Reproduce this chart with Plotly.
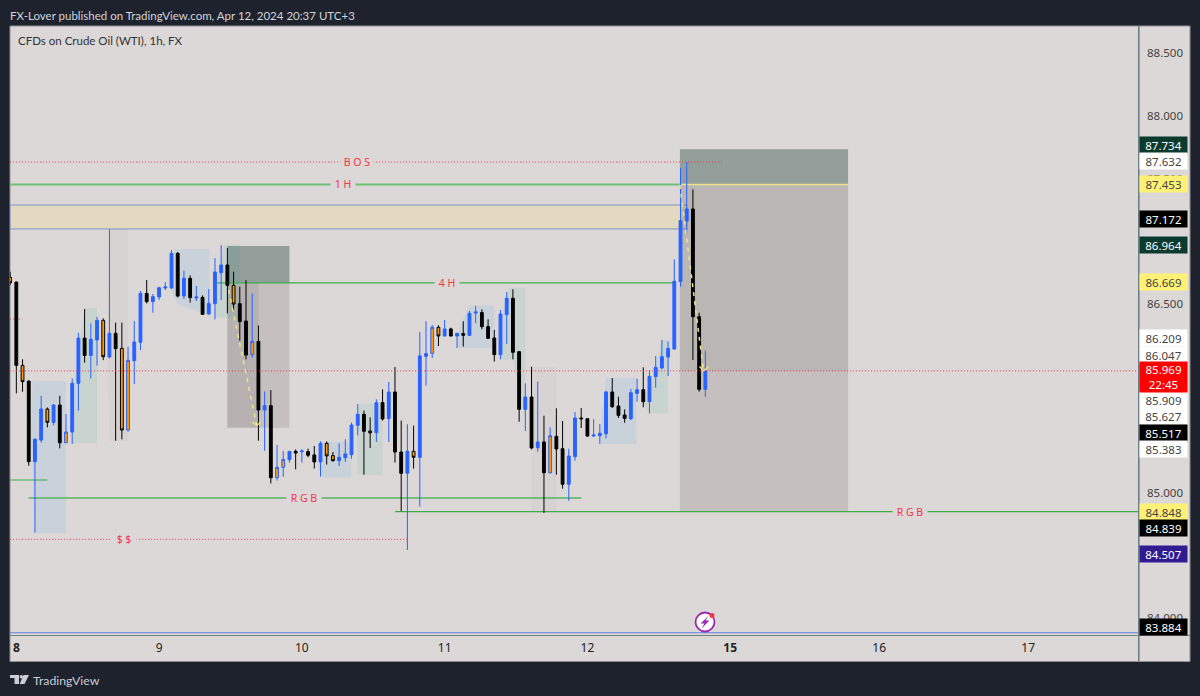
import plotly.graph_objects as go

# One-hour CFD bars, one entry per bar, from the 8th to the 12th.
# kind: b = rising, k = falling, u = rising inside bar, d = falling inside bar
kind = list(
    "dkdkbbdbku"
    "bbkbbdbkdu"
    "bbkbbbbkbk"
    "bkbbbkdkku"
    "kbkuubkbkk"
    "bddbbbbkdb"
    "kbkkbdbbud"
    "bkbkbbkkkb"
    "bkkbkbkukk"
    "bbkkbbbkkk"
    "bbkbbbbbbb"
    "kkb"
)
body_top = [
    86.714, 86.676, 86.013, 85.888, 85.424, 85.665, 85.665, 85.697, 85.697, 85.482,
    85.870, 86.230, 86.230, 86.220, 86.371, 86.371, 86.268, 86.268, 86.148, 86.053,
    86.199, 86.586, 86.586, 86.560, 86.631, 86.637, 86.905, 86.905, 86.706, 86.706,
    86.557, 86.554, 86.506, 86.756, 86.812, 86.812, 86.650, 86.504, 86.366, 86.204,
    86.204, 85.692, 85.692, 85.201, 85.264, 85.328, 85.328, 85.331, 85.326, 85.300,
    85.392, 85.392, 85.294, 85.281, 85.308, 85.538, 85.623, 85.623, 85.491, 85.716,
    85.716, 85.801, 85.801, 85.323, 85.329, 85.329, 86.088, 86.106, 86.316, 86.316,
    86.303, 86.303, 86.268, 86.266, 86.427, 86.438, 86.433, 86.321, 86.231, 86.422,
    86.547, 86.547, 86.122, 85.761, 85.761, 85.403, 85.403, 85.453, 85.448, 85.349,
    85.291, 85.594, 85.594, 85.588, 85.458, 85.472, 85.801, 85.801, 85.689, 85.618,
    85.795, 85.819, 85.819, 85.925, 85.997, 86.082, 86.148, 86.682, 87.165, 87.258,
    87.258, 86.400, 85.969,
]
body_bottom = [
    86.671, 86.013, 85.883, 85.246, 85.246, 85.418, 85.559, 85.559, 85.397, 85.397,
    85.482, 85.870, 86.092, 86.092, 86.215, 86.082, 86.079, 86.146, 85.498, 85.498,
    86.050, 86.196, 86.520, 86.520, 86.557, 86.629, 86.629, 86.565, 86.565, 86.552,
    86.549, 86.419, 86.422, 86.504, 86.751, 86.650, 86.501, 86.361, 86.095, 86.100,
    85.657, 85.657, 85.118, 85.118, 85.201, 85.262, 85.315, 85.326, 85.297, 85.244,
    85.244, 85.292, 85.254, 85.254, 85.278, 85.302, 85.536, 85.488, 85.475, 85.477,
    85.586, 85.589, 85.323, 85.154, 85.154, 85.281, 85.281, 86.085, 86.109, 86.247,
    86.247, 86.247, 86.247, 86.252, 86.252, 86.430, 86.321, 86.228, 86.098, 86.098,
    86.417, 86.117, 85.663, 85.663, 85.355, 85.357, 85.158, 85.158, 85.347, 85.066,
    85.066, 85.286, 85.588, 85.450, 85.450, 85.453, 85.469, 85.684, 85.615, 85.591,
    85.588, 85.790, 85.724, 85.724, 85.923, 85.992, 86.079, 86.143, 86.679, 87.162,
    86.400, 85.822, 85.822,
]
high = [
    86.759, 86.680, 86.061, 85.890, 85.432, 85.771, 85.678, 85.705, 85.771, 85.625,
    85.909, 86.273, 86.461, 86.347, 86.400, 86.387, 87.096, 86.353, 86.353, 86.161,
    86.366, 86.605, 86.692, 86.581, 86.639, 86.676, 86.931, 86.915, 86.767, 86.729,
    86.645, 86.570, 86.621, 86.867, 86.971, 86.947, 86.759, 86.639, 86.692, 86.586,
    86.331, 85.806, 85.816, 85.379, 85.331, 85.331, 85.344, 85.345, 85.350, 85.371,
    85.408, 85.408, 85.323, 85.392, 85.424, 85.557, 85.706, 85.653, 85.599, 85.743,
    85.822, 85.881, 86.000, 85.573, 85.544, 85.533, 86.279, 86.364, 86.335, 86.332,
    86.374, 86.313, 86.268, 86.364, 86.446, 86.486, 86.459, 86.380, 86.295, 86.454,
    86.597, 86.619, 86.127, 85.870, 86.002, 85.883, 85.612, 85.519, 85.671, 85.570,
    85.349, 85.641, 85.673, 85.588, 85.583, 85.546, 85.811, 85.912, 85.763, 85.663,
    85.825, 85.907, 85.997, 85.976, 86.087, 86.215, 86.204, 86.857, 87.587, 87.632,
    87.414, 86.432, 86.130,
]
low = [
    86.652, 85.790, 85.803, 85.214, 84.681, 85.397, 85.519, 85.535, 85.352, 85.395,
    85.387, 85.652, 86.034, 85.909, 86.010, 86.055, 86.069, 85.413, 85.424, 85.485,
    85.864, 86.135, 86.506, 86.432, 86.533, 86.613, 86.621, 86.554, 86.541, 86.512,
    86.525, 86.414, 86.416, 86.379, 86.533, 86.427, 86.453, 86.209, 86.061, 86.074,
    85.413, 85.333, 85.073, 85.095, 85.126, 85.238, 85.185, 85.239, 85.281, 85.191,
    85.127, 85.223, 85.246, 85.212, 85.244, 85.270, 85.456, 85.143, 85.355, 85.403,
    85.573, 85.403, 85.239, 84.851, 84.543, 85.191, 84.888, 85.852, 86.072, 86.167,
    86.242, 86.242, 86.151, 86.162, 86.247, 86.348, 86.300, 86.223, 86.043, 86.061,
    86.183, 86.061, 85.564, 85.490, 85.344, 85.326, 84.838, 85.153, 85.142, 85.031,
    84.935, 85.254, 85.514, 85.445, 85.445, 85.387, 85.432, 85.673, 85.594, 85.556,
    85.578, 85.724, 85.679, 85.631, 85.835, 85.981, 85.928, 86.140, 86.639, 87.064,
    86.055, 85.803, 85.763,
]

# Session labels on the bar axis
day_bars = [1, 24, 47, 70, 93, 116, 140, 164]
day_labels = ["<b>8</b>", "9", "10", "11", "12", "<b>15</b>", "16", "17"]

# Round prices on the scale; those under a tag are left out
price_ticks = [88.5, 88.0, 87.5, 87.0, 86.5, 85.0, 84.0]

# Price levels
bos_level = 87.632
h1_level = 87.453
h4_level = 86.669
rgb_upper = 84.957
rgb_lower = 84.848
ss_level = 84.628
last_price = 85.969
floor_level = 83.884
supply_top, supply_bottom = 87.290, 87.099

# Trade boxes: first bar, last bar, target, entry, stop
trade_large = (107.9, 135.0, 87.734, 87.453, 84.848)
trade_small = (35.0, 45.0, 86.964, 86.669, 85.517)

# Highlighted bar clusters as (bar, price) outlines
BLUE_ZONE, GREEN_ZONE, GREY_ZONE = "#c9d1da", "#c9d4d1", "#d6d3d2"
zones = [
    (BLUE_ZONE, [(3.4, 85.45), (3.6, 85.888), (9, 85.888), (9, 84.681), (4, 84.681)]),
    (GREEN_ZONE, [(10.1, 85.39), (10.2, 85.85), (12, 86.47), (14, 86.47), (14, 85.39)]),
    (GREY_ZONE, [(15.6, 86.2), (16, 87.099), (19, 87.099), (19, 85.41), (16, 85.41)]),
    (BLUE_ZONE, [(26, 86.6), (26.5, 86.94), (32.1, 86.94), (32.1, 86.41), (27, 86.5)]),
    (GREEN_ZONE, [(33, 86.4), (33.2, 86.7), (34.5, 86.971), (37, 86.971), (37, 86.379)]),
    (BLUE_ZONE, [(49.6, 85.2), (50, 85.405), (55, 85.405), (55, 85.12), (50.3, 85.12)]),
    (GREEN_ZONE, [(55.8, 85.5), (56.2, 85.71), (60, 85.71), (60, 85.14), (56, 85.14)]),
    (BLUE_ZONE, [(72, 86.15), (72.3, 86.3), (74, 86.49), (78, 86.49), (78, 86.15)]),
    (GREEN_ZONE, [(79, 86.06), (79.2, 86.4), (80.3, 86.63), (83, 86.63), (83, 85.57), (81, 86.06)]),
    (GREY_ZONE, [(84, 86.0), (88, 86.0), (88, 84.838), (84, 84.838)]),
    (BLUE_ZONE, [(95, 85.45), (96, 85.912), (100.9, 85.912), (100.9, 85.387), (95, 85.387)]),
    (GREEN_ZONE, [(102, 85.724), (103.5, 85.9), (105, 86.215), (106, 86.215), (106, 85.631), (103, 85.631)]),
]

# Projected moves drawn as dashed arrows: tail, tip, and the two barbs
moves = [
    ((35.2, 86.613), (39.73, 85.533), (39.03, 85.562), (40.38, 85.562)),
    ((107.9, 87.449), (111.7, 85.968), (111.05, 86.004), (112.55, 86.004)),
]

# Price scale tags: text, fill, ink and height, centred on a pixel row
WHITE, BLACK, YELLOW, TEAL, INK = "#ffffff", "#000000", "#fff176", "#0b3a2e", "#444444"
scale_tags = [
    ("87.734", TEAL, WHITE, 145), ("87.632", WHITE, INK, 161.5),
    ("87.453", YELLOW, INK, 184), ("87.172", BLACK, WHITE, 219),
    ("86.964", TEAL, WHITE, 245), ("86.669", YELLOW, INK, 282),
    ("86.209", WHITE, INK, 338), ("86.047", WHITE, INK, 355),
    ("85.909", WHITE, INK, 400), ("85.627", WHITE, INK, 416),
    ("85.517", BLACK, WHITE, 433), ("85.383", WHITE, INK, 449),
    ("84.848", YELLOW, INK, 512), ("84.839", BLACK, WHITE, 528),
    ("84.507", "#311b92", WHITE, 554), ("83.884", BLACK, WHITE, 627),
]

# Canvas geometry
WIDTH, HEIGHT = 1200, 696
LEFT, RIGHT, TOP, BOTTOM = 10, 1138, 27, 635
BG = "#dcd8d8"
DARK = "#1e222d"
RED = "#f23645"
GREEN = "#3fae49"
SOFT_GREEN = "#6fbf73"
FONT = "Noto Sans"
FINE_DOT = "1px,2px"


def px(x, y):
    """Canvas pixel to paper fractions, for the furniture outside the data."""
    return (x - LEFT) / (RIGHT - LEFT), 1 - (y - TOP) / (BOTTOM - TOP)


def outline(points):
    return "M" + " L".join(f"{x},{y}" for x, y in points) + " Z"


def paper_rect(x0, y0, x1, y1, **kw):
    a, b = px(x0, y0)
    c, d = px(x1, y1)
    return dict(type="rect", xref="paper", yref="paper", x0=a, y0=b, x1=c, y1=d, **kw)


def paper_poly(points, color):
    path = outline([px(*p) for p in points])
    return dict(type="path", xref="paper", yref="paper", path=path,
                fillcolor=color, line=dict(width=0), layer="above")


def level(x0, x1, y, color, dash="solid", width=1.2, layer="below"):
    return dict(type="line", xref="x", yref="y", x0=x0, x1=x1, y0=y, y1=y,
                line=dict(color=color, width=width, dash=dash), layer=layer)


def box(x0, x1, y0, y1, fill, line=None):
    return dict(type="rect", xref="x", yref="y", x0=x0, x1=x1, y0=y0, y1=y1,
                fillcolor=fill, layer="below",
                line=dict(width=1 if line else 0, color=line or fill))


shapes = [
    # Light panels behind the price and time scales
    paper_rect(10, 26, 1190, 661.5, fillcolor=BG, line=dict(color="#8f8f8f", width=1), layer="below"),
]
for color, pts in zones:
    shapes.append(dict(type="path", xref="x", yref="y", path=outline(pts),
                       fillcolor=color, line=dict(width=0), layer="below"))
shapes += [
    box(0, 109, supply_top, supply_bottom, "#e2d9c0", "#7f93c4"),
]
for x0, x1, target, entry, stop in (trade_large, trade_small):
    shapes += [
        box(x0, x1, entry, target, "rgba(60,90,85,0.45)"),
        box(x0, x1, stop, entry, "rgba(70,60,55,0.15)"),
    ]
shapes += [
    box(trade_large[0], trade_large[1], last_price, h1_level, "rgba(70,60,55,0.08)"),
    box(trade_small[0], 40, trade_small[4], trade_small[3], "rgba(70,60,55,0.10)"),
    level(0, 114.7, bos_level, RED, FINE_DOT, width=1),
    level(0, 107.9, h1_level, SOFT_GREEN, width=2),
    level(107.9, 135, h1_level, "#ece28c", width=1.5),
    level(33, 107, h4_level, GREEN),
    level(3, 92, rgb_upper, "#55b560", width=1.5),
    level(62, 181.7, rgb_lower, GREEN),
    level(0, 6, 85.10, GREEN),
    level(0, 63.9, ss_level, RED, FINE_DOT, width=1),
    level(0, 2, 86.382, RED, FINE_DOT, width=1),
    level(0, 181.7, last_price, RED, FINE_DOT, width=1, layer="above"),
    level(0, 181.7, floor_level, "#5b7fe0"),
    paper_rect(10, 635, 1190, 635.8, fillcolor="#4f6a60", line=dict(width=0), layer="above"),
    paper_rect(1138, 26, 1139.6, 661, fillcolor="#6d7f85", line=dict(width=0), layer="above"),
]
for tail, tip, barb_a, barb_b in moves:
    shapes.append(dict(type="line", xref="x", yref="y", x0=tail[0], y0=tail[1], x1=tip[0], y1=tip[1],
                       line=dict(color="#efe38a", width=1.5, dash="4px,5px"), layer="above"))
    for barb in (barb_a, barb_b):
        shapes.append(dict(type="line", xref="x", yref="y", x0=barb[0], y0=barb[1], x1=tip[0], y1=tip[1],
                           line=dict(color="#efe38a", width=1.2), layer="above"))

# Watermark mark at the foot of the page
shapes += [
    paper_poly([(10, 675), (19, 675), (19, 684), (14.5, 684), (14.5, 678), (10, 678)], "#c9ccd4"),
    paper_poly([(23.5, 675), (29, 675), (24.5, 684), (19.6, 684)], "#c9ccd4"),
]
a, b = px(19.6, 675)
c, d = px(23, 678.4)
shapes.append(dict(type="circle", xref="paper", yref="paper", x0=a, y0=b, x1=c, y1=d,
                   fillcolor="#c9ccd4", line=dict(width=0), layer="above"))

# Lightning badge above the time scale
a, b = px(695.5, 612.5)
c, d = px(714.5, 631.5)
shapes.append(dict(type="circle", xref="paper", yref="paper", x0=a, y0=b, x1=c, y1=d,
                   fillcolor="#ffffff", line=dict(color="#9c27b0", width=1.8), layer="above"))
shapes.append(paper_poly([(708.5, 616), (700.5, 623.5), (704.4, 623.5), (701.5, 628.5),
                          (709.5, 620.5), (705.6, 620.5)], "#9c27b0"))
a, b = px(709.5, 613)
c, d = px(714.5, 618)
shapes.append(dict(type="circle", xref="paper", yref="paper", x0=a, y0=b, x1=c, y1=d,
                   fillcolor=RED, line=dict(width=0), layer="above"))


def text_at(x, y, text, size, color, family=FONT):
    fx, fy = px(x, y)
    return dict(xref="paper", yref="paper", x=fx, y=fy, text=text, showarrow=False,
                xanchor="left", yanchor="middle", align="left", borderpad=0, xshift=-1,
                font=dict(family=family, size=size, color=color))


def level_tag(bar, price, text, width):
    return dict(xref="x", yref="y", x=bar, y=price, text=text, showarrow=False,
                width=width, height=12, bgcolor=BG, borderpad=0,
                font=dict(family=FONT, size=10.5, color=RED))


annotations = [
    text_at(10, 15, "FX-Lover published on TradingView.com, Apr 12, 2024 20:37 UTC+3", 11.5, "#d1d4dc", "Lato"),
    text_at(18, 41, "CFDs on Crude Oil (WTI), 1h, FX", 11.5, "#333333", "Lato"),
    text_at(33, 680, "TradingView", 12.3, "#c9ccd4", "Lato"),
    level_tag(55.9, bos_level, "B O S", 32),
    level_tag(53.7, h1_level, "1 H", 24),
    level_tag(70.4, h4_level, "4 H", 24),
    level_tag(47.4, rgb_upper, "R G B", 34),
    level_tag(145, rgb_lower, "R G B", 34),
    level_tag(18.3, ss_level, "$ $", 24),
]
for text, fill, ink, row in scale_tags:
    fx, fy = px(1139, row)
    annotations.append(dict(xref="paper", yref="paper", x=fx, y=fy, text=text, showarrow=False,
                            xanchor="left", yanchor="middle", width=47, height=16, borderpad=0,
                            bgcolor=fill, font=dict(family=FONT, size=11.5, color=ink)))
fx, fy = px(1139, 377)
annotations.append(dict(xref="paper", yref="paper", x=fx, y=fy, text="85.969<br>22:45", showarrow=False,
                        xanchor="left", yanchor="middle", width=47, height=30, borderpad=0,
                        bgcolor="#ff0000", font=dict(family=FONT, size=11.5, color=WHITE)))


def bar_arrays(kinds):
    """Split the bars of the given kinds into candlestick columns."""
    idx = [i for i, k in enumerate(kind) if k in kinds]
    rising = {i: kind[i] in "bu" for i in idx}
    return dict(
        x=idx,
        open=[body_bottom[i] if rising[i] else body_top[i] for i in idx],
        close=[body_top[i] if rising[i] else body_bottom[i] for i in idx],
        high=[high[i] for i in idx],
        low=[low[i] for i in idx],
    )


BLUE = "#2962ff"
ORANGE = "#ff9800"

fig = go.Figure()
fig.add_trace(go.Candlestick(
    **bar_arrays("bk"), name="Bars", whiskerwidth=0,
    increasing=dict(line=dict(color=BLUE, width=1), fillcolor=BLUE),
    decreasing=dict(line=dict(color=BLACK, width=1), fillcolor=BLACK),
))
fig.add_trace(go.Candlestick(
    **bar_arrays("ud"), name="Inside bars", whiskerwidth=0,
    increasing=dict(line=dict(color=BLUE, width=1), fillcolor=ORANGE),
    decreasing=dict(line=dict(color=BLACK, width=1), fillcolor=ORANGE),
))

fig.update_layout(
    width=WIDTH, height=HEIGHT, autosize=False,
    margin=dict(l=LEFT, r=WIDTH - RIGHT, t=TOP, b=HEIGHT - BOTTOM, pad=0),
    paper_bgcolor=DARK, plot_bgcolor=BG,
    showlegend=False, boxgap=0.35, boxmode="overlay",
    font=dict(family=FONT),
    shapes=shapes, annotations=annotations,
    xaxis=dict(
        range=[-0.02, 181.7], rangeslider=dict(visible=False), showgrid=False, zeroline=False,
        tickmode="array", tickvals=day_bars, ticktext=day_labels, ticks="",
        tickfont=dict(family=FONT, size=12, color="#222222"), ticklabelstandoff=4,
        showline=False,
    ),
    yaxis=dict(
        range=[83.866, 88.707], side="right", showgrid=False, zeroline=False,
        tickmode="array", tickvals=price_ticks, tickformat=".3f", ticks="", ticklabelstandoff=8,
        tickfont=dict(family=FONT, size=11.5, color=INK), showline=False,
    ),
)

fig.write_html("out.html", config=dict(displayModeBar=False))
